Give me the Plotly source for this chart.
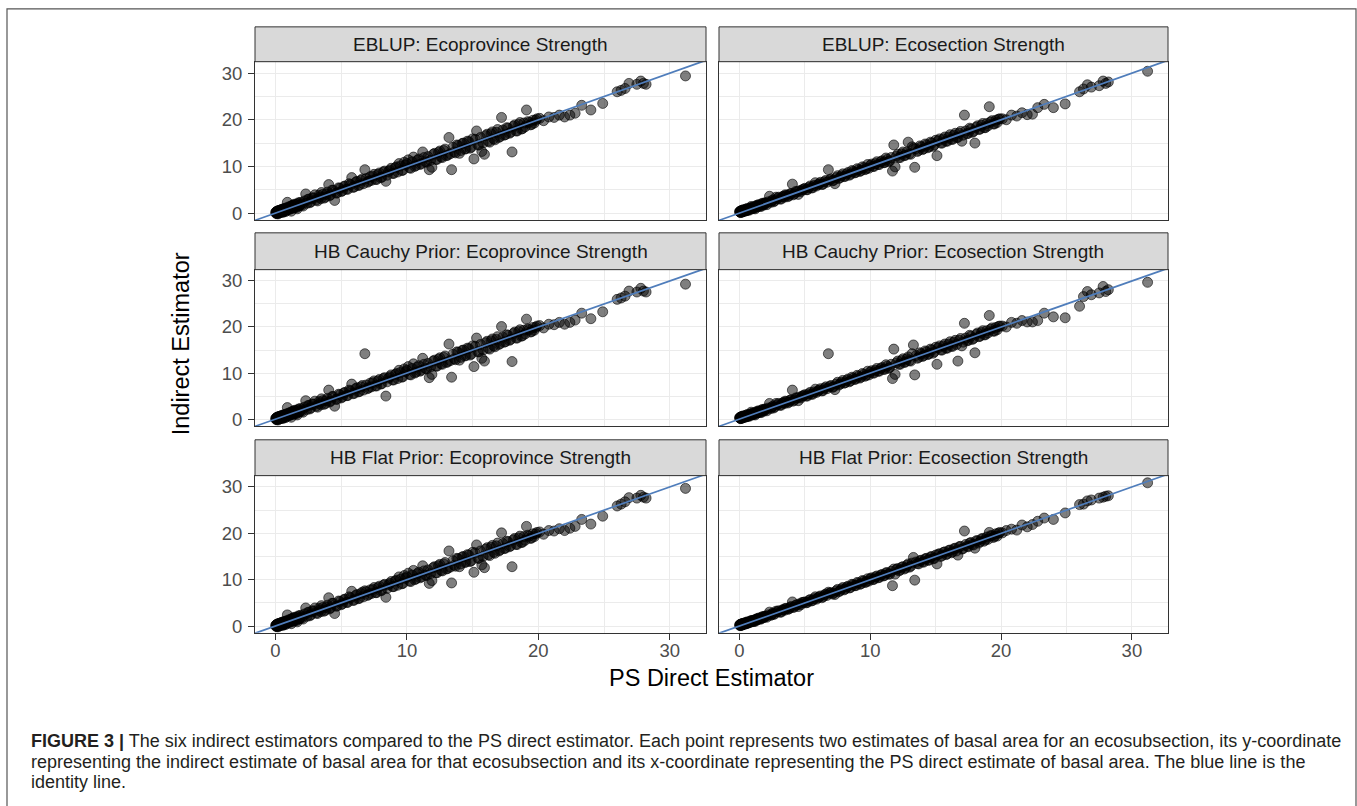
import plotly.graph_objects as go

# ---------------- data ----------------
# PS direct estimate (x) for each ecosubsection, shared by all six panels
ps_direct = [
    0.02, 0.05, 0.08, 0.1, 0.12, 0.15, 0.18, 0.2, 0.24, 0.28,
    0.3, 0.35, 0.4, 0.45, 0.5, 0.55, 0.6, 0.68, 0.75, 0.82,
    0.9, 0.95, 1.02, 1.1, 1.2, 1.28, 1.35, 1.45, 1.55, 1.65,
    1.75, 1.85, 1.95, 2.1, 2.3, 2.45, 2.6, 2.8,
    3.0, 3.2, 3.35, 3.5, 3.7, 3.85, 4.05, 4.1, 4.3, 4.5,
    4.6, 4.8, 5.0, 5.2, 5.4, 5.6, 5.8, 6.0, 6.2, 6.4,
    6.6, 6.8, 7.0, 7.2, 7.3, 7.5, 7.7, 7.9, 8.1, 8.3,
    8.4, 8.6, 8.8, 9.0, 9.2, 9.4, 9.6, 9.8, 9.9,
    10.1, 10.3, 10.5, 10.7, 10.9, 11.1, 11.2, 11.4, 11.6, 11.7,
    11.8, 11.9, 12.1, 12.3, 12.5, 12.7, 12.9, 13.1, 13.2, 13.3,
    13.4, 13.6, 13.8, 14.0, 14.2, 14.4, 14.6, 14.8, 15.0, 15.1,
    15.3, 15.5, 15.7, 15.9, 16.1, 16.3, 16.5, 16.7, 16.9, 17.0,
    17.2, 17.4, 17.6, 17.8, 18.0, 18.2, 18.4, 18.6, 18.8, 19.1,
    19.3, 19.5, 19.8,
    20.1, 20.4, 20.8, 21.2, 21.6, 22.0, 22.4, 22.8, 23.3, 24.0,
    24.9, 26.0, 26.3, 26.6, 26.9, 27.5, 27.8, 28.0, 28.2, 31.2,
]

eblup_prov = [
    0.1, -0.1, 0.3, 0.0, 0.4, 0.1, -0.2, 0.5, 0.2, 0.0,
    0.6, 0.3, 0.1, 0.7, 0.4, 0.2, 0.9, 0.5, 0.3, 1.1,
    2.3, 0.7, 1.2, 0.9, 0.4, 1.6, 1.1, 1.9, 1.3, 0.9,
    2.2, 1.6, 2.0, 1.5, 4.1, 2.9, 2.2, 3.3,
    3.9, 2.6, 3.4, 4.4, 3.2, 4.0, 6.1, 3.7, 4.9, 2.7,
    4.3, 5.4, 4.6, 5.7, 5.1, 6.3, 7.6, 5.6, 6.8, 6.0,
    7.3, 9.3, 6.6, 7.8, 7.0, 8.3, 7.2, 8.6, 7.7, 9.0,
    6.8, 8.9, 9.6, 8.5, 9.9, 10.6, 9.1, 10.9, 10.3,
    11.4, 9.6, 12.0, 10.2, 11.6, 10.6, 13.1, 11.0, 12.1, 9.3,
    11.3, 9.8, 12.8, 11.5, 13.3, 11.9, 13.7, 12.4, 16.2, 12.7,
    9.3, 13.1, 14.6, 12.8, 14.9, 13.7, 15.4, 13.9, 15.9, 11.6,
    17.6, 14.6, 13.2, 12.6, 16.9, 15.2, 17.4, 15.7, 17.9, 16.2,
    20.5, 16.7, 18.3, 17.1, 13.1, 18.9, 17.6, 19.4, 18.1, 22.1,
    19.4, 19.0, 19.9,
    20.3, 19.8, 20.6, 20.5, 21.0, 20.6, 21.0, 21.4, 23.1, 22.1,
    23.5, 26.0, 26.3, 26.7, 27.8, 27.6, 28.3, 27.8, 27.6, 29.4,
]

eblup_sec = [
    0.3, 0.2, 0.4, 0.1, 0.5, 0.3, 0.2, 0.6, 0.4, 0.3,
    0.7, 0.5, 0.4, 0.8, 0.6, 0.5, 1.0, 0.7, 0.6, 1.1,
    1.4, 0.9, 1.3, 1.0, 0.9, 1.6, 1.3, 1.8, 1.5, 1.4,
    2.1, 1.7, 2.2, 1.8, 3.6, 2.6, 2.4, 3.4,
    3.4, 3.0, 3.6, 3.9, 3.5, 4.1, 6.2, 3.9, 4.6, 4.0,
    4.8, 5.0, 5.3, 5.0, 5.8, 5.4, 6.5, 6.1, 6.6, 6.2,
    7.0, 9.3, 7.3, 7.0, 6.3, 8.0, 7.6, 8.4, 7.9, 8.7,
    8.1, 9.1, 8.6, 9.5, 8.9, 9.9, 9.3, 10.4, 9.6,
    10.5, 10.0, 11.0, 10.4, 11.2, 10.8, 11.8, 11.0, 11.9, 9.0,
    14.6, 9.9, 12.6, 11.9, 13.1, 12.4, 15.2, 12.6, 14.2, 13.9,
    9.8, 13.2, 14.4, 13.6, 14.8, 14.0, 15.2, 14.3, 15.6, 12.3,
    15.9, 15.0, 16.3, 15.4, 16.8, 15.8, 17.1, 16.2, 17.5, 15.4,
    21.0, 17.0, 18.2, 17.3, 15.0, 18.7, 18.0, 19.2, 18.3, 22.8,
    19.8, 19.1, 20.1,
    20.2, 20.0, 21.0, 20.8, 21.5, 21.1, 21.2, 22.6, 23.3, 22.6,
    23.4, 26.0, 26.6, 27.5, 27.0, 27.3, 28.3, 27.8, 28.1, 30.4,
]

cauchy_prov = [
    0.1, -0.1, 0.3, 0.0, 0.4, 0.1, -0.2, 0.5, 0.2, 0.0,
    0.6, 0.3, 0.1, 0.7, 0.4, 0.2, 0.9, 0.5, 0.3, 1.1,
    2.5, 0.7, 1.2, 0.9, 0.4, 1.6, 1.1, 1.9, 1.3, 0.9,
    2.2, 1.6, 2.0, 1.5, 4.0, 2.9, 2.2, 3.3,
    3.9, 2.6, 3.4, 4.4, 3.2, 4.0, 6.3, 3.7, 4.9, 2.8,
    4.3, 5.4, 4.6, 5.7, 5.1, 6.3, 7.6, 5.6, 6.8, 6.0,
    7.3, 14.2, 6.6, 7.8, 7.0, 8.3, 7.2, 8.6, 7.7, 9.0,
    5.0, 8.9, 9.6, 8.5, 9.9, 10.6, 9.1, 10.9, 10.3,
    11.4, 9.6, 12.0, 10.2, 11.6, 10.6, 13.2, 11.0, 12.1, 9.0,
    11.3, 9.7, 12.8, 11.5, 13.3, 11.9, 13.7, 12.4, 16.3, 12.7,
    9.1, 13.1, 14.6, 12.8, 14.9, 13.7, 15.4, 13.9, 15.9, 11.4,
    17.6, 14.6, 13.2, 12.6, 16.9, 15.2, 17.4, 15.7, 17.9, 16.2,
    20.1, 16.7, 18.3, 17.1, 12.5, 18.9, 17.6, 19.4, 18.1, 21.7,
    19.4, 19.0, 19.9,
    20.3, 19.8, 20.6, 20.5, 21.0, 20.6, 21.0, 21.5, 23.0, 21.8,
    23.3, 26.0, 26.3, 26.7, 27.8, 27.6, 28.4, 27.8, 27.6, 29.3,
]

cauchy_sec = [
    0.3, 0.2, 0.4, 0.1, 0.5, 0.3, 0.2, 0.6, 0.4, 0.3,
    0.7, 0.5, 0.4, 0.8, 0.6, 0.5, 1.0, 0.7, 0.6, 1.1,
    1.5, 0.9, 1.3, 1.0, 0.9, 1.6, 1.3, 1.8, 1.5, 1.4,
    2.1, 1.7, 2.2, 1.8, 3.4, 2.6, 2.4, 3.4,
    3.4, 3.0, 3.6, 3.9, 3.5, 4.1, 6.3, 3.9, 4.6, 4.0,
    4.8, 5.0, 5.3, 5.0, 5.8, 5.4, 6.5, 6.1, 6.6, 6.2,
    7.0, 14.2, 7.3, 7.0, 6.4, 8.0, 7.6, 8.4, 7.9, 8.7,
    8.1, 9.1, 8.6, 9.5, 8.9, 9.9, 9.3, 10.4, 9.6,
    10.5, 10.0, 11.0, 10.4, 11.2, 10.8, 11.8, 11.0, 11.9, 8.8,
    15.2, 9.7, 12.6, 11.9, 13.1, 12.4, 13.5, 12.6, 14.2, 16.1,
    9.6, 13.2, 14.4, 13.6, 14.8, 14.0, 15.2, 14.3, 15.6, 11.9,
    15.9, 15.0, 16.3, 15.4, 16.8, 15.8, 17.1, 12.6, 17.5, 15.9,
    20.8, 17.0, 18.2, 17.3, 14.4, 18.7, 18.0, 19.2, 18.3, 22.5,
    19.8, 19.1, 20.1,
    20.2, 20.0, 21.0, 20.8, 21.4, 21.1, 21.1, 21.4, 23.0, 22.2,
    22.0, 24.5, 26.6, 27.7, 27.0, 27.4, 28.8, 27.7, 28.1, 29.7,
]

flat_prov = [
    0.1, -0.1, 0.3, 0.0, 0.4, 0.1, -0.2, 0.5, 0.2, 0.0,
    0.6, 0.3, 0.1, 0.7, 0.4, 0.2, 0.9, 0.5, 0.3, 1.1,
    2.4, 0.7, 1.2, 0.9, 0.5, 1.6, 1.1, 1.9, 1.3, 0.9,
    2.2, 1.6, 2.0, 1.5, 3.9, 2.9, 2.2, 3.3,
    3.9, 2.7, 3.4, 4.4, 3.2, 4.0, 6.1, 3.7, 4.9, 2.7,
    4.3, 5.4, 4.6, 5.7, 5.1, 6.3, 7.5, 5.6, 6.8, 6.0,
    7.3, 7.6, 6.6, 7.8, 7.0, 8.3, 7.2, 8.6, 7.7, 9.0,
    6.2, 8.9, 9.6, 8.5, 9.9, 10.6, 9.1, 10.9, 10.3,
    11.4, 9.6, 12.0, 10.2, 11.6, 10.6, 13.0, 11.0, 12.1, 9.2,
    11.3, 9.8, 12.8, 11.5, 13.3, 11.9, 13.7, 12.4, 16.2, 12.7,
    9.3, 13.1, 14.6, 12.8, 14.9, 13.7, 15.4, 13.9, 15.9, 11.6,
    17.5, 14.6, 13.2, 12.6, 16.9, 15.2, 17.4, 15.7, 17.9, 16.2,
    20.1, 16.7, 18.3, 17.1, 12.8, 18.9, 17.6, 19.4, 18.1, 21.5,
    19.4, 19.0, 19.9,
    20.3, 19.8, 20.6, 20.5, 21.0, 20.6, 21.1, 21.5, 23.0, 22.0,
    23.7, 25.9, 26.3, 26.8, 27.7, 27.6, 28.2, 27.8, 27.6, 29.7,
]

flat_sec = [
    0.2, 0.1, 0.3, 0.1, 0.4, 0.3, 0.2, 0.5, 0.4, 0.3,
    0.6, 0.5, 0.4, 0.7, 0.6, 0.5, 0.9, 0.7, 0.7, 1.0,
    1.2, 0.9, 1.2, 1.0, 1.0, 1.5, 1.3, 1.7, 1.5, 1.5,
    2.0, 1.8, 2.1, 1.9, 3.0, 2.5, 2.5, 3.2,
    3.3, 3.0, 3.5, 3.8, 3.6, 4.0, 5.2, 4.0, 4.5, 4.2,
    4.8, 5.1, 5.2, 5.1, 5.7, 5.5, 6.3, 6.1, 6.5, 6.3,
    6.9, 7.3, 7.2, 7.1, 6.8, 7.9, 7.6, 8.3, 8.0, 8.6,
    8.2, 9.0, 8.7, 9.4, 9.0, 9.8, 9.4, 10.2, 9.7,
    10.4, 10.1, 10.8, 10.5, 11.1, 10.9, 11.5, 11.2, 11.8, 8.7,
    12.3, 11.2, 12.4, 12.1, 12.8, 12.5, 13.4, 12.9, 13.6, 14.8,
    9.9, 13.5, 14.1, 13.8, 14.5, 14.2, 14.9, 14.5, 15.3, 13.4,
    15.6, 15.2, 16.0, 15.6, 16.4, 16.0, 16.8, 15.3, 17.2, 16.6,
    20.5, 17.2, 17.9, 17.6, 16.8, 18.4, 18.2, 18.9, 18.6, 20.2,
    19.5, 19.3, 20.0,
    20.1, 20.6, 20.9, 20.7, 21.8, 21.4, 21.9, 22.6, 23.3, 23.0,
    24.4, 26.2, 26.3, 27.0, 27.2, 27.6, 27.8, 28.0, 28.1, 30.9,
]

# dense band of ecosubsections lying close to the identity line
ps_direct_band = [
    0.03, 0.07, 0.11, 0.14, 0.17, 0.22, 0.26, 0.33, 0.38, 0.42,
    0.48, 0.53, 0.58, 0.64, 0.71, 0.78, 0.86, 0.98, 1.06, 1.15,
    1.24, 1.32, 1.4, 1.5, 1.6, 1.7, 1.8, 1.9, 2.0, 2.2,
    2.4, 2.55, 2.7, 2.9, 3.1, 3.3, 3.45, 3.6, 3.8, 3.95,
    4.2, 4.4, 4.7, 4.9, 5.1, 5.3, 5.5, 5.7, 5.9, 6.1,
    6.3, 6.5, 6.7, 6.9, 7.1, 7.4, 7.6, 7.8, 8.0, 8.2,
    8.5, 8.7, 8.9, 9.1, 9.3, 9.5, 9.7, 10.0, 10.2, 10.4,
    10.6, 10.8, 11.0, 11.3, 11.5, 12.0, 12.2, 12.4, 12.6, 12.8,
    13.0, 13.5, 13.7, 13.9, 14.1, 14.3, 14.5, 14.7, 14.9, 15.2,
    15.4, 15.6, 15.8, 16.0, 16.2, 16.4, 16.6, 16.8, 17.1, 17.3,
    17.5, 17.7, 17.9, 18.1, 18.3, 18.5, 18.7, 18.9, 19.0, 19.2,
    19.4, 19.6, 19.7, 19.9,
]

prov_band = [
    0.2, 0.0, 0.3, -0.1, 0.4, 0.1, 0.5, 0.2, 0.6, 0.3,
    0.8, 0.4, 0.2, 0.9, 0.5, 1.0, 0.6, 1.3, 0.8, 1.5,
    1.0, 1.7, 1.1, 1.8, 1.2, 2.0, 1.5, 2.3, 1.7, 2.6,
    2.1, 3.0, 2.4, 3.2, 2.8, 3.8, 3.1, 4.0, 3.4, 4.5,
    3.9, 4.9, 4.3, 5.3, 4.8, 5.8, 5.1, 6.1, 5.5, 6.6,
    5.9, 7.0, 6.3, 7.4, 6.8, 7.9, 7.2, 8.3, 7.6, 8.8,
    8.1, 9.2, 8.5, 9.7, 8.8, 10.1, 9.2, 10.6, 9.7, 11.0,
    10.0, 11.3, 10.4, 11.9, 10.9, 12.6, 11.5, 13.0, 12.0, 13.4,
    12.3, 14.1, 12.9, 14.5, 13.4, 15.0, 13.8, 15.3, 14.1, 15.8,
    14.6, 16.2, 15.0, 16.6, 15.4, 17.0, 15.9, 17.3, 16.4, 17.8,
    16.8, 18.2, 17.3, 18.6, 17.6, 19.0, 18.0, 19.3, 18.5, 19.6,
    18.9, 19.9, 19.3, 20.2,
]

sec_band = [
    0.3, 0.2, 0.4, 0.2, 0.4, 0.3, 0.5, 0.4, 0.6, 0.5,
    0.7, 0.6, 0.6, 0.8, 0.8, 0.9, 0.9, 1.1, 1.1, 1.3,
    1.3, 1.5, 1.4, 1.7, 1.6, 1.9, 1.8, 2.1, 2.0, 2.4,
    2.3, 2.8, 2.6, 3.1, 3.0, 3.5, 3.4, 3.8, 3.7, 4.2,
    4.1, 4.6, 4.6, 5.1, 5.0, 5.5, 5.4, 5.9, 5.8, 6.3,
    6.1, 6.7, 6.6, 7.1, 6.9, 7.6, 7.4, 8.0, 7.8, 8.4,
    8.3, 8.9, 8.7, 9.3, 9.1, 9.7, 9.5, 10.2, 10.0, 10.6,
    10.4, 11.0, 10.8, 11.5, 11.2, 12.2, 11.9, 12.7, 12.3, 13.1,
    12.7, 13.8, 13.4, 14.2, 13.8, 14.6, 14.2, 15.0, 14.6, 15.5,
    15.0, 15.9, 15.4, 16.3, 15.8, 16.7, 16.2, 17.1, 16.7, 17.6,
    17.1, 18.0, 17.5, 18.4, 17.9, 18.8, 18.3, 19.2, 18.7, 19.5,
    19.1, 19.9, 19.4, 20.2,
]

panel_titles = [
    "EBLUP: Ecoprovince Strength", "EBLUP: Ecosection Strength",
    "HB Cauchy Prior: Ecoprovince Strength", "HB Cauchy Prior: Ecosection Strength",
    "HB Flat Prior: Ecoprovince Strength", "HB Flat Prior: Ecosection Strength",
]
panel_series = [eblup_prov, eblup_sec, cauchy_prov, cauchy_sec, flat_prov, flat_sec]
panel_bands = [prov_band, sec_band, prov_band, sec_band, prov_band, sec_band]
tick_vals = [0, 10, 20, 30]
minor_vals = [-5, 5, 15, 25]
identity_line = [-5, 40]

x_title = "PS Direct Estimator"
y_title = "Indirect Estimator"
caption_lines = [
    "<b>FIGURE 3 |</b> The six indirect estimators compared to the PS direct estimator. "
    "Each point represents two estimates of basal area for an ecosubsection, its y-coordinate",
    "representing the indirect estimate of basal area for that ecosubsection and its x-coordinate "
    "representing the PS direct estimate of basal area. The blue line is the",
    "identity line.",
]

for s in panel_series:
    assert len(s) == len(ps_direct), len(s)
for s in (prov_band, sec_band):
    assert len(s) == len(ps_direct_band), len(s)

# ---------------- layout geometry (pixels) ----------------
W, H = 1357, 806
COLS = [(255, 706), (719, 1168)]
ROWS = [(27, 62, 221), (234, 271, 428), (442, 478, 636)]  # strip top, plot top, plot bottom
XR = [-1.56, 32.76]
YR = [-1.47, 32.45]
FONT = "Liberation Sans, Arial, Helvetica, sans-serif"


def px(x):
    return x / W


def py(y):
    return 1 - y / H


fig = go.Figure()
shapes = []
annotations = []
layout_axes = {}

for i, (ys, band, title) in enumerate(zip(panel_series, panel_bands, panel_titles)):
    r, c = divmod(i, 2)
    n = i + 1
    xname = "x" if n == 1 else f"x{n}"
    yname = "y" if n == 1 else f"y{n}"
    x0, x1 = COLS[c]
    st, pt, pb = ROWS[r]

    fig.add_trace(go.Scatter(
        x=ps_direct + ps_direct_band, y=ys + band, mode="markers",
        xaxis=xname, yaxis=yname,
        marker=dict(size=10, color="rgba(0,0,0,0.5)",
                    line=dict(width=0.9, color="rgba(0,0,0,0.65)")),
        showlegend=False, hoverinfo="skip"))
    fig.add_trace(go.Scatter(
        x=identity_line, y=identity_line, mode="lines", xaxis=xname, yaxis=yname,
        line=dict(color="#4f7dbb", width=1.7), showlegend=False, hoverinfo="skip"))

    bottom = r == 2
    left = c == 0
    common = dict(
        showgrid=True, gridcolor="#ebebeb", gridwidth=1.4,
        zeroline=False, showline=True, mirror=True,
        linecolor="#333333", linewidth=1,
        tickmode="array", tickvals=tick_vals,
        ticklen=6, tickwidth=1, tickcolor="#333333",
        tickfont=dict(family=FONT, size=18.5, color="#4d4d4d"),
        minor=dict(tickmode="array", tickvals=minor_vals, showgrid=True,
                   gridcolor="#ebebeb", gridwidth=0.7, ticks=""),
        fixedrange=True,
    )
    layout_axes["xaxis" if n == 1 else f"xaxis{n}"] = dict(
        common, domain=[px(x0), px(x1)], range=XR, anchor=yname,
        ticks="outside" if bottom else "", showticklabels=bottom,
        ticklabelstandoff=-5)
    layout_axes["yaxis" if n == 1 else f"yaxis{n}"] = dict(
        common, domain=[py(pb), py(pt)], range=YR, anchor=xname,
        ticks="outside" if left else "", showticklabels=left,
        ticklabelstandoff=2)

    shapes.append(dict(type="rect", xref="paper", yref="paper",
                       x0=px(x0), x1=px(x1), y0=py(pt), y1=py(st),
                       fillcolor="#d9d9d9", line=dict(color="#333333", width=1)))
    annotations.append(dict(xref="paper", yref="paper", x=px((x0 + x1) / 2),
                            y=py((st + pt) / 2), text=title, showarrow=False,
                            xanchor="center", yanchor="middle",
                            font=dict(family=FONT, size=19, color="#1a1a1a")))

# axis titles
annotations.append(dict(xref="paper", yref="paper", x=px(711), y=py(681),
                        text=x_title, showarrow=False, xanchor="center", yanchor="middle",
                        font=dict(family=FONT, size=23.5, color="#000000")))
annotations.append(dict(xref="paper", yref="paper", x=px(181), y=py(346),
                        text=y_title, showarrow=False, textangle=-90,
                        xanchor="center", yanchor="middle",
                        font=dict(family=FONT, size=23.5, color="#000000")))

# caption
for k, line in enumerate(caption_lines):
    annotations.append(dict(xref="paper", yref="paper", x=px(29), y=py(745 + 20.5 * k),
                            text=line, showarrow=False, xanchor="left", yanchor="middle",
                            font=dict(family=FONT, size=18, color="#231f20")))

# outer frame
shapes.append(dict(type="rect", xref="paper", yref="paper",
                   x0=px(7), x1=px(1356), y0=py(820), y1=py(9),
                   fillcolor="rgba(0,0,0,0)", line=dict(color="#555555", width=1.2)))

fig.update_layout(
    width=W, height=H, margin=dict(l=0, r=0, t=0, b=0),
    paper_bgcolor="white", plot_bgcolor="white",
    font=dict(family=FONT),
    shapes=shapes, annotations=annotations, showlegend=False,
    **layout_axes,
)

fig.write_html("out.html")
